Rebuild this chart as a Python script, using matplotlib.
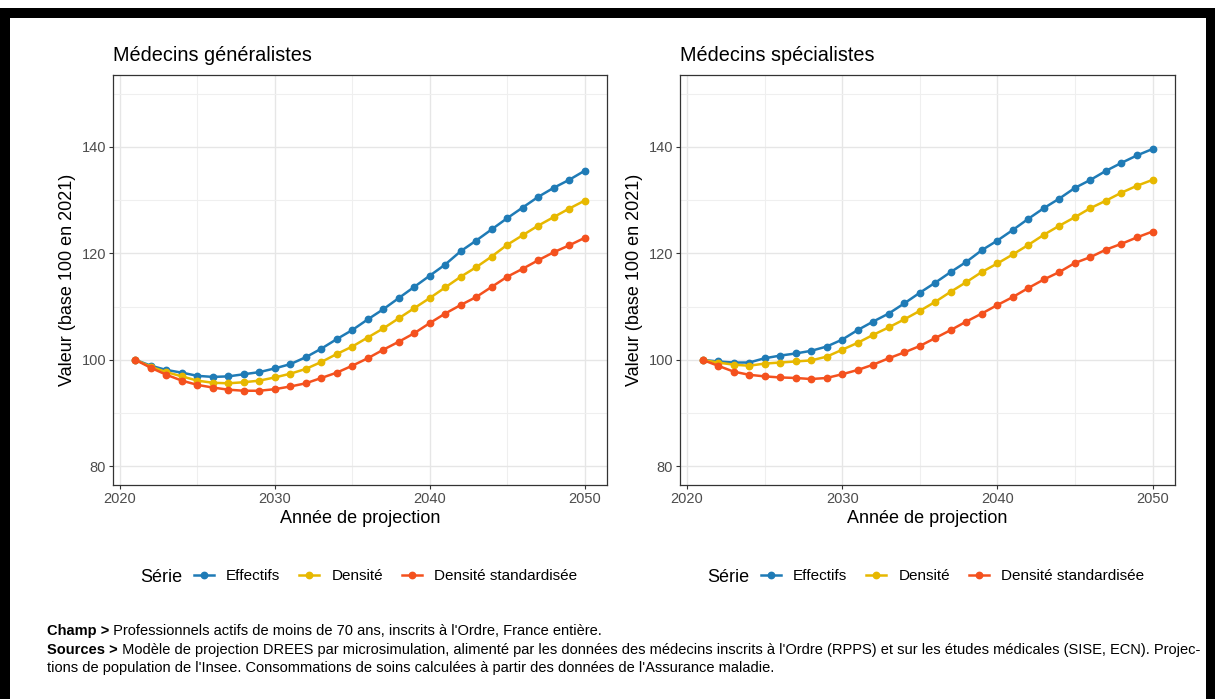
import matplotlib
matplotlib.use("Agg")
import matplotlib.pyplot as plt
from matplotlib import font_manager
from matplotlib.patches import Rectangle
from matplotlib.lines import Line2D

# ---------------- data ----------------
years = list(range(2021, 2051))
series_names = ["Effectifs", "Densité", "Densité standardisée"]
panel_titles = ["Médecins généralistes", "Médecins spécialistes"]

gen_effectifs = [100.0, 98.9, 98.1, 97.6, 97.0, 96.8, 96.9, 97.3, 97.7, 98.4,
                 99.2, 100.5, 102.1, 103.9, 105.6, 107.6, 109.5, 111.6, 113.7, 115.8,
                 117.9, 120.4, 122.4, 124.5, 126.6, 128.6, 130.6, 132.3, 133.8, 135.5]
gen_densite = [100.0, 98.7, 97.7, 96.9, 96.1, 95.7, 95.6, 95.8, 96.1, 96.7,
               97.4, 98.3, 99.6, 101.1, 102.5, 104.2, 105.9, 107.8, 109.7, 111.6,
               113.6, 115.6, 117.4, 119.4, 121.6, 123.4, 125.2, 126.8, 128.4, 129.9]
gen_dens_std = [100.0, 98.5, 97.2, 96.1, 95.3, 94.8, 94.4, 94.2, 94.2, 94.5,
                95.0, 95.6, 96.6, 97.6, 98.9, 100.3, 101.9, 103.4, 105.0, 106.9,
                108.7, 110.3, 111.8, 113.7, 115.6, 117.1, 118.7, 120.2, 121.5, 122.9]

spe_effectifs = [100.0, 99.7, 99.5, 99.5, 100.3, 100.8, 101.2, 101.7, 102.5, 103.8,
                 105.6, 107.2, 108.7, 110.6, 112.6, 114.5, 116.5, 118.4, 120.6, 122.4,
                 124.4, 126.5, 128.5, 130.3, 132.3, 133.8, 135.5, 137.0, 138.4, 139.6]
spe_densite = [100.0, 99.5, 99.1, 98.9, 99.3, 99.5, 99.7, 99.9, 100.6, 101.9,
               103.2, 104.7, 106.1, 107.6, 109.2, 110.9, 112.8, 114.6, 116.5, 118.1,
               119.8, 121.6, 123.5, 125.2, 126.8, 128.5, 129.9, 131.4, 132.7, 133.8]
spe_dens_std = [100.0, 98.9, 97.8, 97.2, 96.9, 96.7, 96.6, 96.4, 96.6, 97.3,
                98.1, 99.1, 100.3, 101.4, 102.6, 104.1, 105.6, 107.2, 108.7, 110.3,
                111.8, 113.5, 115.1, 116.5, 118.2, 119.3, 120.7, 121.8, 123.0, 124.1]

y_ticks = [80, 100, 120, 140]
x_ticks = [2020, 2030, 2040, 2050]

colors = ["#1F7BB6", "#E7B800", "#F4511E"]

caption_lines = [
    ("Champ >", " Professionnels actifs de moins de 70 ans, inscrits à l'Ordre, France entière."),
    ("Sources >", " Modèle de projection DREES par microsimulation, alimenté par les données des médecins inscrits à l'Ordre (RPPS) et sur les études médicales (SISE, ECN). Projec-"),
    ("", "tions de population de l'Insee. Consommations de soins calculées à partir des données de l'Assurance maladie."),
]

# ---------------- setup ----------------
names = {f.name for f in font_manager.fontManager.ttflist}
main_font = "Liberation Sans" if "Liberation Sans" in names else "DejaVu Sans"
cap_font = "Liberation Sans Narrow" if "Liberation Sans Narrow" in names else main_font
plt.rcParams["font.family"] = [main_font, "DejaVu Sans"]

W, H = 1215, 699
fig = plt.figure(figsize=(W / 100, H / 100), dpi=100)
fig.patch.set_facecolor("white")


def fx(px):
    return px / W


def fy(py):
    return 1 - py / H


# black frame (screenshot border)
fig.add_artist(Rectangle((0, fy(699)), 1, fy(8) - fy(699), transform=fig.transFigure,
                         facecolor="black", edgecolor="none", zorder=0))
fig.add_artist(Rectangle((fx(10), fy(699)), fx(1196), fy(18) - fy(699), transform=fig.transFigure,
                         facecolor="white", edgecolor="none", zorder=0))

data = [
    [gen_effectifs, gen_densite, gen_dens_std],
    [spe_effectifs, spe_densite, spe_dens_std],
]
panel_left = [113, 680]
panel_right = [607, 1175]
top, bottom = 75, 485

for i in range(2):
    ax = fig.add_axes([fx(panel_left[i]), fy(bottom), fx(panel_right[i] - panel_left[i]), fy(top) - fy(bottom)])
    ax.set_facecolor("white")
    for vals, c in zip(data[i], colors):
        ax.plot(years, vals, color=c, lw=1.8, marker="o", ms=4.6, zorder=3)
    ax.set_xlim(2019.55, 2051.45)
    ax.set_ylim(76.5, 153.5)
    ax.set_xticks(x_ticks)
    ax.set_yticks(y_ticks)
    ax.set_xticks([2025, 2035, 2045], minor=True)
    ax.set_yticks([90, 110, 130, 150], minor=True)
    ax.grid(True, which="major", color="#E6E6E6", lw=1.0, zorder=0)
    ax.grid(True, which="minor", color="#EFEFEF", lw=0.8, zorder=0)
    ax.tick_params(which="minor", length=0)
    ax.tick_params(which="major", length=3, width=0.8, color="#333333",
                   labelsize=10.5, labelcolor="#4D4D4D", pad=2)
    for s in ax.spines.values():
        s.set_color("#333333")
        s.set_linewidth(0.9)
    ax.set_xlabel("Année de projection", fontsize=13, color="black", labelpad=3)
    ax.set_ylabel("Valeur (base 100 en 2021)", fontsize=13, color="black", labelpad=4)
    ax.set_title(panel_titles[i], loc="left", fontsize=14.3, color="black", pad=10)

    # legend
    legend_x0 = panel_left[i] + 27
    fig.text(fx(legend_x0), fy(577), "Série", fontsize=13, va="center", ha="left")
    handles = [Line2D([], [], color=c, lw=1.8, marker="o", ms=4.6) for c in colors]
    fig.legend(handles, series_names, loc="center left",
               bbox_to_anchor=(fx(legend_x0 + 54), fy(576)), ncol=3, frameon=False,
               fontsize=11, handlelength=1.3, handletextpad=0.8, columnspacing=1.25,
               borderpad=0, borderaxespad=0)

# caption
renderer = fig.canvas.get_renderer()
probe = fig.text(0, 0, caption_lines[1][0] + caption_lines[1][1], fontsize=10, family=cap_font)
wpx = probe.get_window_extent(renderer).width
probe.remove()
cap_size = 10 * 1143 / wpx
cap_y = [631, 650, 668]
for (b, rest), yy in zip(caption_lines, cap_y):
    x = fx(47)
    if b:
        tb = fig.text(x, fy(yy), b, fontsize=cap_size, family=cap_font, weight="bold", va="center")
        x = x + tb.get_window_extent(renderer).width / W
    fig.text(x, fy(yy), rest, fontsize=cap_size, family=cap_font, va="center")

fig.savefig("out.png", dpi=100)
